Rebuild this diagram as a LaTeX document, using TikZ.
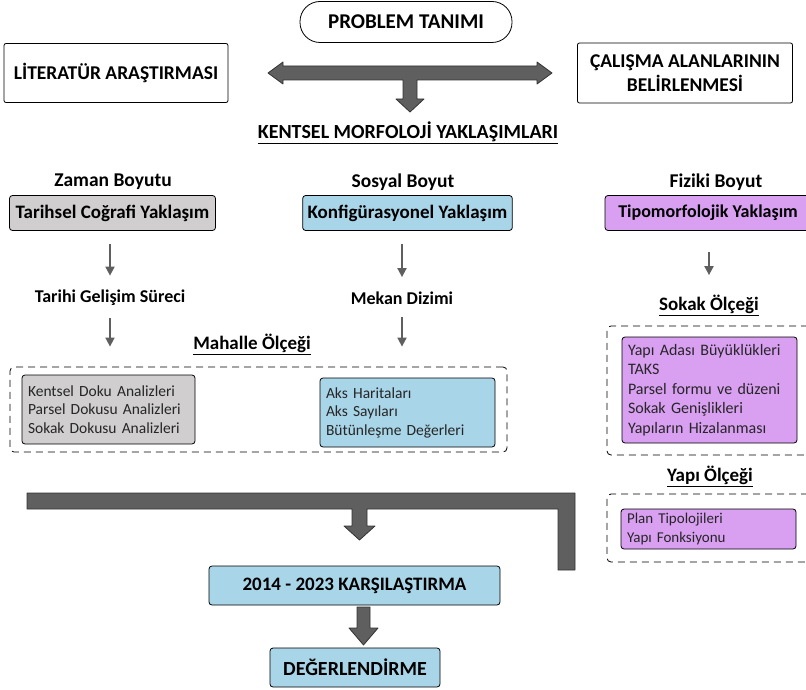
\documentclass[tikz,border=0pt]{standalone}
\usepackage{fontspec}
\setmainfont{Carlito}
\usetikzlibrary{arrows.meta,positioning,calc}
\definecolor{tarih}{HTML}{D0CECE}
\definecolor{konfig}{HTML}{A9D5E8}
\definecolor{tipo}{HTML}{D9A0F2}
\definecolor{blok}{HTML}{5F5F5F}
\definecolor{listtext}{HTML}{262626}
\tikzset{
  headbox/.style={draw, thick, rounded corners=3pt, align=center,
    font=\bfseries\fontsize{19}{22}\selectfont, minimum height=35pt, inner xsep=5pt},
  plainbox/.style={draw, thick, rounded corners=2pt, align=center, fill=white,
    font=\bfseries\fontsize{19.5}{24}\selectfont},
  listbox/.style={draw, thick, rounded corners=3pt, align=left, text=listtext,
    font=\fontsize{15.5}{18.5}\selectfont, inner xsep=6pt},
  zonebox/.style={draw, thick, dashed, dash pattern=on 7pt off 5pt, rounded corners=4pt},
  captxt/.style={font=\bfseries\fontsize{19}{22}\selectfont},
  thinarr/.style={-{Triangle[length=9pt,width=9pt]}, line width=1.8pt, draw=blok},
  blockarr/.style={draw=black!80, fill=blok, line width=0.8pt, line join=round}
}
\begin{document}
\begin{tikzpicture}[x=1pt,y=-1pt]
  \useasboundingbox (0,0) rectangle (806,690);
  % top row
  \node[plainbox, rounded corners=20pt, minimum width=212pt, minimum height=41pt, font=\bfseries\fontsize{21}{24}\selectfont] (problem) at (406,22) {PROBLEM TANIMI};
  \node[plainbox, minimum width=224pt, minimum height=59pt] (literatur) at (116,73) {LİTERATÜR ARAŞTIRMASI};
  \node[plainbox, minimum width=215pt, minimum height=60pt] (alan) at (685,73) {ÇALIŞMA ALANLARININ\\BELİRLENMESİ};
  \draw[blockarr] (268,73) -- (283,62) -- (283,66) -- (537,66) -- (537,62) -- (552,73) -- (537,84) -- (537,80)
    -- (417,80) -- (417,99) -- (424,99) -- (410,112) -- (396,99) -- (403,99) -- (403,80)
    -- (283,80) -- (283,84) -- cycle;
  \node[captxt, font=\bfseries\fontsize{20}{24}\selectfont] (kentsel) at (408,133) {\underline{KENTSEL MORFOLOJİ YAKLAŞIMLARI}};

  % three approaches
  \node[captxt, font=\bfseries\fontsize{19.5}{22}\selectfont] (zaman) at (113,182) {Zaman Boyutu};
  \node[headbox, fill=tarih, minimum width=206pt] (tarihsel) at (112.5,213) {Tarihsel Coğrafi Yaklaşım};
  \node[captxt, font=\bfseries\fontsize{19.5}{22}\selectfont] (sosyal) at (403,182) {Sosyal Boyut};
  \node[headbox, fill=konfig, minimum width=207pt] (konfig) at (407.5,213) {Konfigürasyonel Yaklaşım};
  \node[captxt, font=\bfseries\fontsize{19.5}{22}\selectfont] (fiziki) at (716,182) {Fiziki Boyut};
  \node[headbox, fill=tipo, minimum width=206pt, font=\bfseries\fontsize{18}{22}\selectfont] (tipo) at (708,213) {Tipomorfolojik Yaklaşım};

  \node[captxt, font=\bfseries\fontsize{18}{22}\selectfont] (tarihi) at (110,298) {Tarihi Gelişim Süreci};
  \node[captxt, font=\bfseries\fontsize{18}{22}\selectfont] (mekan) at (402,298) {Mekan Dizimi};
  \node[captxt] (sokak) at (709,305) {\underline{Sokak Ölçeği}};
  \node[captxt] (mahalle) at (252,344) {\underline{Mahalle Ölçeği}};

  \draw[thinarr, shorten <=13pt, shorten >=11pt] (tarihi.north |- tarihsel.south) -- (tarihi.north);
  \draw[thinarr, shorten <=13pt, shorten >=11pt] (mekan.north |- konfig.south) -- (mekan.north);
  \draw[thinarr, shorten <=21pt, shorten >=16pt] (sokak.north |- tipo.south) -- (sokak.north);

  % neighbourhood scale
  \node[zonebox, minimum width=497pt, minimum height=85pt] (mahzone) at (258.5,409.5) {};
  \node[listbox, fill=tarih, text width=161pt, minimum height=69pt] (kentdoku) at (108.5,409.5) {Kentsel Doku Analizleri\\Parsel Dokusu Analizleri\\Sokak Dokusu Analizleri};
  \node[listbox, fill=konfig, text width=163pt, minimum height=69pt] (aks) at (407.5,412.5) {Aks Haritaları\\Aks Sayıları\\Bütünleşme Değerleri};
  \draw[thinarr, shorten <=9pt, shorten >=20pt] (tarihi.south) -- (tarihi.south |- mahzone.north);
  \draw[thinarr, shorten <=9pt, shorten >=20pt] (mekan.south) -- (mekan.south |- mahzone.north);

  % street and building scale
  \node[zonebox, minimum width=205pt, minimum height=129pt] (sokzone) at (709.5,390.5) {};
  \node[listbox, fill=tipo, text width=163pt, minimum height=106pt, font=\fontsize{16}{19.5}\selectfont] (yapiadasi) at (709.5,390)
    {Yapı Adası Büyüklükleri\\TAKS\\Parsel formu ve düzeni\\Sokak Genişlikleri\\Yapıların Hizalanması};
  \node[captxt] (yapi) at (710,476) {\underline{Yapı Ölçeği}};
  \node[zonebox, minimum width=205pt, minimum height=68pt] (yapizone) at (709.5,528) {};
  \node[listbox, fill=tipo, text width=163pt, minimum height=40pt, font=\fontsize{15}{18.5}\selectfont] (plan) at (708.5,529)
    {Plan Tipolojileri\\Yapı Fonksiyonu};

  % comparison
  \draw[blockarr] (27,493) -- (575,493) -- (575,570) -- (558,570) -- (558,509) -- (367,509) -- (367,526)
    -- (375,526) -- (359.5,540) -- (344,526) -- (352,526) -- (352,509) -- (27,509) -- cycle;
  \node[headbox, fill=konfig, minimum width=291pt, minimum height=39pt] (karsi) at (354.5,585.5) {2014 - 2023 KARŞILAŞTIRMA};
  \node[headbox, fill=konfig, minimum width=170pt, minimum height=39pt, font=\bfseries\fontsize{20}{22}\selectfont] (degerl) at (355,667.5) {DEĞERLENDİRME};
  \draw[blockarr] (357,607) -- (370,607) -- (370,628) -- (378,628) -- (363.5,645) -- (349,628) -- (357,628) -- cycle;
\end{tikzpicture}
\end{document}
